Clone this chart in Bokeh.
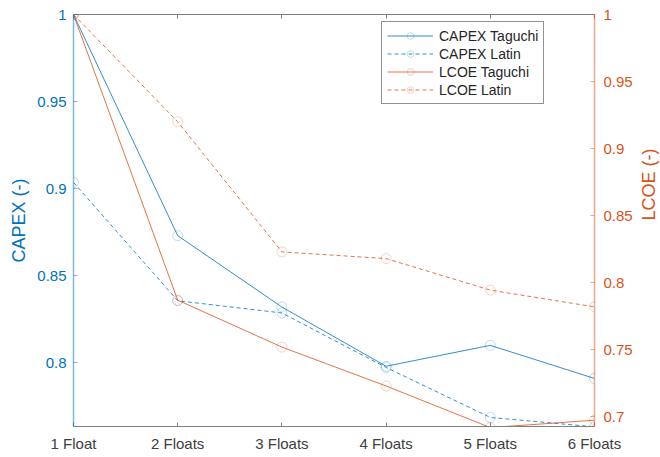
import math
from bokeh.plotting import figure
from bokeh.models import Range1d, LinearAxis, FixedTicker, Legend, LegendItem
from bokeh.embed import file_html
from bokeh.resources import INLINE

categories = ["1 Float", "2 Floats", "3 Floats", "4 Floats", "5 Floats", "6 Floats"]
capex_taguchi = [1.0, 0.873, 0.832, 0.798, 0.810, 0.791]
capex_latin = [0.9036, 0.8356, 0.8286, 0.7973, 0.7686, 0.7632]
lcoe_taguchi = [1.0, 0.787, 0.752, 0.723, 0.692, 0.6975]
lcoe_latin = [1.0, 0.920, 0.823, 0.818, 0.7945, 0.782]
left_ticks = [0.8, 0.85, 0.9, 0.95, 1.0]
right_ticks = [0.7, 0.75, 0.8, 0.85, 0.9, 0.95, 1.0]

x = list(range(1, len(categories) + 1))

BLUE = "#0072BD"
ORANGE = "#D95319"
FONT = "Liberation Sans"

p = figure(frame_width=521, frame_height=412, output_backend="svg", toolbar_location=None,
           x_range=Range1d(1, 6), y_range=Range1d(0.7634, 1.0),
           min_border_left=73, min_border_right=66, min_border_top=14, min_border_bottom=31)
p.extra_y_ranges = {"lcoe": Range1d(0.6928, 1.0)}
p.xgrid.visible = False
p.ygrid.visible = False
p.outline_line_color = None
p.background_fill_color = "white"
p.border_fill_color = "white"

# bottom axis
xa = p.xaxis[0]
xa.ticker = FixedTicker(ticks=x)
xa.major_label_overrides = {i: c for i, c in zip(x, categories)}
xa.major_tick_in = 4
xa.major_tick_out = 0
xa.minor_tick_line_color = None
xa.axis_line_color = "#808080"
xa.major_tick_line_color = "#808080"
xa.major_label_text_font = FONT
xa.major_label_text_font_size = "15px"
xa.major_label_text_color = "#404040"
xa.major_label_standoff = 8

# top axis (box)
ta = LinearAxis(ticker=FixedTicker(ticks=x), major_label_text_font_size="0px",
                major_tick_in=4, major_tick_out=0, minor_tick_line_color=None,
                axis_line_color="#808080", major_tick_line_color="#808080")
ta.major_label_overrides = {i: "" for i in x}
p.add_layout(ta, "above")

# left axis
ya = p.yaxis[0]
ya.ticker = FixedTicker(ticks=left_ticks)
ya.major_label_overrides = {1.0: "1", 0.95: "0.95", 0.9: "0.9", 0.85: "0.85", 0.8: "0.8"}
ya.major_tick_in = 4
ya.major_tick_out = 0
ya.minor_tick_line_color = None
ya.axis_line_color = BLUE
ya.axis_line_alpha = 0.5
ya.axis_line_width = 1.5
ya.major_tick_line_color = BLUE
ya.major_tick_line_alpha = 0.5
ya.major_label_text_font = FONT
ya.major_label_text_font_size = "15px"
ya.major_label_text_color = BLUE
ya.major_label_standoff = 7
ya.axis_label = "CAPEX (-)"
ya.axis_label_text_font = FONT
ya.axis_label_text_font_size = "18px"
ya.axis_label_text_font_style = "normal"
ya.axis_label_text_color = BLUE
ya.axis_label_standoff = 5

# right axis
ra = LinearAxis(y_range_name="lcoe", ticker=FixedTicker(ticks=right_ticks))
ra.major_label_overrides = {1.0: "1", 0.95: "0.95", 0.9: "0.9", 0.85: "0.85",
                            0.8: "0.8", 0.75: "0.75", 0.7: "0.7"}
ra.major_tick_in = 4
ra.major_tick_out = 0
ra.minor_tick_line_color = None
ra.axis_line_color = ORANGE
ra.axis_line_alpha = 0.5
ra.axis_line_width = 1.5
ra.major_tick_line_color = ORANGE
ra.major_tick_line_alpha = 0.5
ra.major_label_text_font = FONT
ra.major_label_text_font_size = "15px"
ra.major_label_text_color = ORANGE
ra.major_label_standoff = 9
ra.axis_label = "LCOE (-)"
ra.axis_label_text_font = FONT
ra.axis_label_text_font_size = "18px"
ra.axis_label_text_font_style = "normal"
ra.axis_label_text_color = ORANGE
ra.axis_label_standoff = 13
ra.axis_label_orientation = math.pi / 2
p.add_layout(ra, "right")

series = [
    ("CAPEX Taguchi", capex_taguchi, BLUE, "solid", "default"),
    ("CAPEX Latin", capex_latin, BLUE, "4 3", "default"),
    ("LCOE Taguchi", lcoe_taguchi, ORANGE, "solid", "lcoe"),
    ("LCOE Latin", lcoe_latin, ORANGE, "4 3", "lcoe"),
]
items = []
for name, ys, col, dash, rng in series:
    l = p.line(x, ys, line_color=col, line_width=1, line_alpha=0.8, line_dash=dash,
               y_range_name=rng)
    s = p.scatter(x, ys, marker="circle", size=10, fill_color=None, line_color=col,
                  line_alpha=0.25, line_width=1, y_range_name=rng)
    items.append(LegendItem(label=name, renderers=[l, s]))

legend = Legend(items=items, location=(308, 322), label_text_font=FONT,
                label_text_font_size="14px", label_text_color="#262626",
                glyph_width=46, glyph_height=17, label_height=17, spacing=1,
                padding=5, margin=0, label_standoff=6,
                border_line_color="#262626", border_line_width=1,
                background_fill_alpha=1.0)
p.add_layout(legend, "center")

open("out.html", "w").write(file_html(p, INLINE))
